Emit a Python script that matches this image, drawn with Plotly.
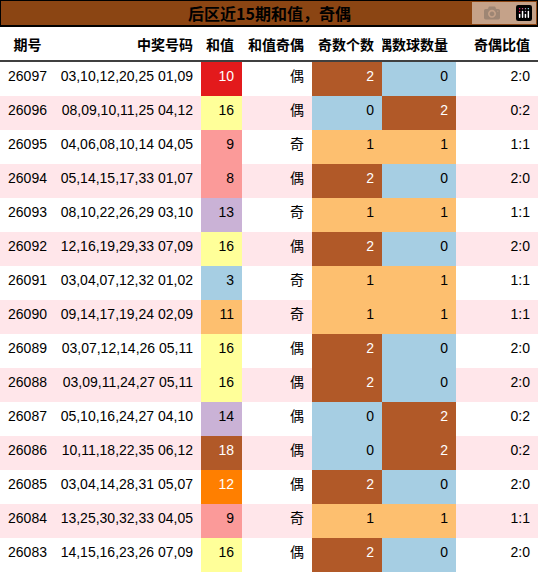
import plotly.graph_objects as go

periods = ["26097","26096","26095","26094","26093","26092","26091","26090","26089","26088","26087","26086","26085","26084","26083"]
numbers = ["03,10,12,20,25 01,09","08,09,10,11,25 04,12","04,06,08,10,14 04,05","05,14,15,17,33 01,07",
           "08,10,22,26,29 03,10","12,16,19,29,33 07,09","03,04,07,12,32 01,02","09,14,17,19,24 02,09",
           "03,07,12,14,26 05,11","03,09,11,24,27 05,11","05,10,16,24,27 04,10","10,11,18,22,35 06,12",
           "03,04,14,28,31 05,07","13,25,30,32,33 04,05","14,15,16,23,26 07,09"]
sums = [10,16,9,8,13,16,3,11,16,16,14,18,12,9,16]
parity = ["偶","偶","奇","偶","奇","偶","奇","奇","偶","偶","偶","偶","偶","奇","偶"]
odd_cnt = [2,0,1,2,1,2,1,1,2,2,0,0,2,1,2]
even_cnt = [0,2,1,0,1,0,1,1,0,0,2,2,0,1,0]
ratio = ["2:0","0:2","1:1","2:0","1:1","2:0","1:1","1:1","2:0","2:0","0:2","0:2","2:0","1:1","2:0"]
headers = ["期号","中奖号码","和值","和值奇偶","奇数个数","偶数球数量","奇偶比值"]
title = "后区近15期和值，奇偶"

sum_colors = {3:"#a6cee3",8:"#fb9a99",9:"#fb9a99",10:"#e31a1c",11:"#fdbf6f",12:"#ff7f00",
              13:"#cab2d6",14:"#cab2d6",16:"#ffff99",18:"#b15928"}
cnt_colors = {0:"#a6cee3",1:"#fdbf6f",2:"#b15928"}
row_bg = ["#ffffff" if i % 2 == 0 else "#ffe6ea" for i in range(len(periods))]

sum_fill = [sum_colors[s] for s in sums]
sum_font = ["white" if s in (10,12,18) else "black" for s in sums]
odd_fill = [cnt_colors[c] for c in odd_cnt]
odd_font = ["white" if c == 2 else "black" for c in odd_cnt]
even_fill = [cnt_colors[c] for c in even_cnt]
even_font = ["white" if c == 2 else "black" for c in even_cnt]

fills = [row_bg, row_bg, sum_fill, row_bg, odd_fill, even_fill, row_bg]
fonts = [["black"]*15, ["black"]*15, sum_font, ["black"]*15, odd_font, even_font, ["black"]*15]

numbers_nb = [n.replace(" ", "\u00a0") for n in numbers]

W, H = 538, 573
top = (H - 26) / H
fig = go.Figure(go.Table(
    columnwidth=[55,146,41,70,70,74,82],
    domain=dict(x=[0,1], y=[0, top]),
    header=dict(values=[f"<b>{h}</b>" for h in headers], height=35,
                align=["center","right","right","right","right","right","right"],
                fill_color="white", line=dict(width=0, color="white"),
                font=dict(family="Noto Sans CJK SC", size=14, color="black")),
    cells=dict(values=[periods, numbers_nb, sums, parity, odd_cnt, even_cnt, ratio], height=34,
               align=["center","right","right","right","right","right","right"],
               fill_color=fills, line=dict(width=0, color="white"),
               font=dict(family="Liberation Sans, Noto Sans CJK SC", size=14, color=fonts)),
))
fig.update_layout(
    width=W, height=H, margin=dict(l=0,r=0,t=0,b=0), paper_bgcolor="white",
    shapes=[dict(type="rect", xref="paper", yref="paper", x0=0, x1=1, y0=top, y1=1,
                 fillcolor="#8b4513", line=dict(color="black", width=2)),
            dict(type="line", xref="paper", yref="paper", x0=0, x1=1, y0=(H-61)/H, y1=(H-61)/H,
                 line=dict(color="black", width=1.5))],
    annotations=[dict(text=f"<b>{title}</b>", xref="paper", yref="paper", x=0.5, y=(H-13)/H,
                      yanchor="middle", showarrow=False,
                      font=dict(family="Noto Sans CJK SC", size=16, color="black"))],
)
fig.write_html("out.html", post_script="document.body.style.margin='0';document.body.style.overflow='hidden';")
